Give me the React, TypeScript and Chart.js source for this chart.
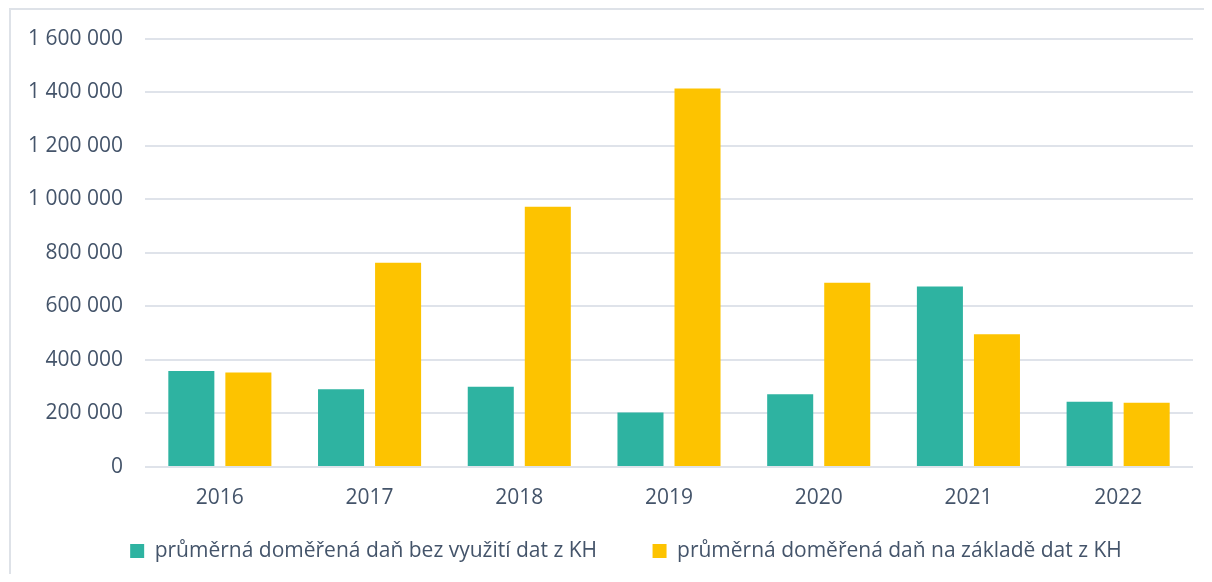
import React, { useEffect, useRef } from "react";
import { Chart, registerables } from "chart.js";

Chart.register(...registerables);

const years = ["2016", "2017", "2018", "2019", "2020", "2021", "2022"];
const withoutKH = [359000, 290000, 300000, 204000, 272000, 674000, 244000];
const withKH = [353000, 763000, 972000, 1414000, 688000, 496000, 240000];
const seriesLabels = [
  "průměrná doměřená daň bez využití dat z KH",
  "průměrná doměřená daň na základě dat z KH",
];
const yTicksMax = 1600000;
const yStep = 200000;

const TEXT = "#44546A";
const FONT = "'Open Sans', 'Noto Sans', sans-serif";

const CANVAS_W = 1201;
const CANVAS_H = 578;

function fmt(v: number): string {
  return String(v).replace(/\B(?=(\d{3})+(?!\d))/g, " ");
}

const legendPlacement = {
  id: "legendPlacement",
  afterLayout(chart: any) {
    const lg = chart.legend;
    if (!lg) return;
    lg.left += 24;
    lg.right += 24;
    lg.top = 481;
    lg.height = 96;
    lg.bottom = 481 + 96;
  },
};

export default function App() {
  const ref = useRef<HTMLCanvasElement | null>(null);

  useEffect(() => {
    document.documentElement.style.overflow = "hidden";
    document.body.style.overflow = "hidden";
    if (!ref.current) return;
    const chart = new Chart(ref.current, {
      type: "bar",
      data: {
        labels: years,
        datasets: [
          {
            label: seriesLabels[0],
            data: withoutKH,
            backgroundColor: "#2EB3A1",
            categoryPercentage: 0.762,
            barPercentage: 0.807,
          },
          {
            label: seriesLabels[1],
            data: withKH,
            backgroundColor: "#FDC300",
            categoryPercentage: 0.762,
            barPercentage: 0.807,
          },
        ],
      },
      plugins: [legendPlacement],
      options: {
        animation: false,
        responsive: false,
        maintainAspectRatio: false,
        layout: { padding: { left: 0, right: 19, top: 0, bottom: 0 } },
        scales: {
          x: {
            afterFit: (scale: any) => {
              scale.height = 42;
            },
            grid: { display: false, drawTicks: false },
            border: { display: false },
            ticks: {
              color: TEXT,
              font: { family: FONT, size: 21 },
              padding: 18,
            },
          },
          y: {
            min: 0,
            max: yTicksMax,
            afterFit: (scale: any) => {
              scale.width = 134;
            },
            grid: {
              color: "#DFE3EA",
              lineWidth: 2,
              drawTicks: false,
            },
            border: { display: false },
            ticks: {
              stepSize: yStep,
              color: TEXT,
              font: { family: FONT, size: 21 },
              padding: 22,
              callback: (v: any) => fmt(Number(v)),
            },
          },
        },
        plugins: {
          legend: {
            position: "bottom",
            maxHeight: 73,
            labels: {
              color: TEXT,
              font: { family: FONT, size: 21 },
              boxWidth: 14,
              boxHeight: 14,
              padding: 55.5,
            },
          },
          tooltip: { enabled: false },
          title: { display: false },
        },
      },
    });
    return () => chart.destroy();
  }, []);

  return (
    <div
      style={{
        position: "relative",
        marginLeft: 1,
        marginBottom: -8,
        width: 1201,
        height: 572,
        borderLeft: "2px solid #DEE2E8",
        borderTop: "2px solid #DEE2E8",
        background: "#fff",
        overflow: "hidden",
      }}
    >
      <canvas
        ref={ref}
        width={CANVAS_W}
        height={CANVAS_H}
        style={{ display: "block", marginTop: -6, width: CANVAS_W, height: CANVAS_H }}
      />
    </div>
  );
}
